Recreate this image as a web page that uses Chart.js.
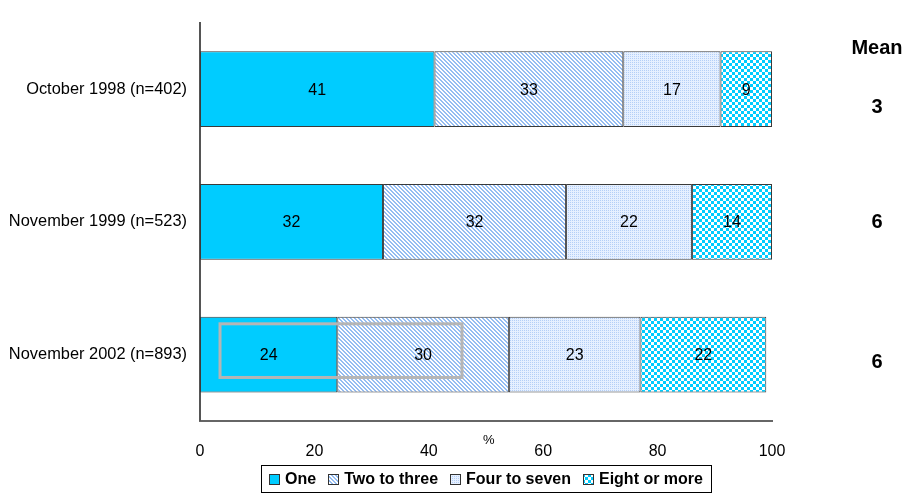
<!DOCTYPE html>
<html lang="en">
<head>
<meta charset="UTF-8">
<title>Number of times</title>
<script src="https://cdn.jsdelivr.net/npm/chart.js"></script>
<style>
    body { margin: 0; padding: 0; background: #fff; }
    #wrap { width: 913px; height: 496px; position: relative; }
</style>
</head>
<body>
<div id="wrap"><canvas id="chart" width="913" height="496"></canvas></div>
<script>
    const surveys = ['October 1998 (n=402)', 'November 1999 (n=523)', 'November 2002 (n=893)'];
    const one = [41, 32, 24];
    const twoToThree = [33, 32, 30];
    const fourToSeven = [17, 22, 23];
    const eightOrMore = [9, 14, 22];
    const means = ['3', '6', '6'];
    const seriesNames = ['One', 'Two to three', 'Four to seven', 'Eight or more'];
    const xTicks = [0, 20, 40, 60, 80, 100];

    const FONT = "'Liberation Sans', Arial, sans-serif";

    function tile(size, paint) {
        const c = document.createElement('canvas');
        c.width = size; c.height = size;
        const g = c.getContext('2d');
        for (let y = 0; y < size; y++) {
            for (let x = 0; x < size; x++) {
                g.fillStyle = paint(x, y);
                g.fillRect(x, y, 1, 1);
            }
        }
        return document.getElementById('chart').getContext('2d').createPattern(c, 'repeat');
    }

    const solid = '#00ccff';
    const stripes = tile(4, (x, y) => ((x - y + 8) % 4 < 2) ? '#95bdf2' : '#ffffff');
    const dots = tile(2, (x, y) => (x === 0 && y === 0) ? '#b4cff7' : '#e6f0ff');
    const checks = tile(6, (x, y) => ((Math.floor(x / 3) + Math.floor(y / 3)) % 2 === 0) ? '#00ccff' : '#ffffff');
    const fills = [solid, stripes, dots, checks];

    // labels, means, the % label, legend and the grey marquee box
    const extras = {
        id: 'extras',
        afterDatasetsDraw(chart) {
            const ctx = chart.ctx;
            const xs = chart.scales.x, ys = chart.scales.y;
            ctx.save();
            ctx.fillStyle = '#000';
            ctx.font = '16px ' + FONT;
            ctx.textAlign = 'center';
            ctx.textBaseline = 'middle';
            chart.data.datasets.forEach((ds, i) => {
                chart.getDatasetMeta(i).data.forEach((bar, j) => {
                    ctx.fillText(ds.data[j], (bar.x + bar.base) / 2, bar.y + 1);
                });
            });

            // grey selection box on the last row
            const last = chart.getDatasetMeta(0).data[2];
            ctx.strokeStyle = '#b5b5b5';
            ctx.lineWidth = 3;
            ctx.strokeRect(xs.getPixelForValue(3.5), last.y - last.height / 2 + 7,
                xs.getPixelForValue(45.8) - xs.getPixelForValue(3.5), last.height - 22);

            // mean column
            const meanX = 877;
            const meanShift = [18, 1, 8];
            ctx.font = 'bold 20px ' + FONT;
            ctx.fillText('Mean', meanX, 48);
            means.forEach((m, j) => ctx.fillText(m, meanX, ys.getPixelForValue(j) + meanShift[j]));

            // axis unit
            ctx.font = '13px ' + FONT;
            ctx.fillText('%', xs.getPixelForValue(50.5), 440);

            // legend
            ctx.font = 'bold 16px ' + FONT;
            const box = 11, gapBox = 5, gapItem = 12, padX = 8;
            const widths = seriesNames.map(n => ctx.measureText(n).width);
            const total = widths.reduce((a, b) => a + b, 0) + seriesNames.length * (box + gapBox) + (seriesNames.length - 1) * gapItem + 2 * padX;
            const cx = (chart.chartArea.left + chart.chartArea.right) / 2;
            let lx = cx - total / 2;
            const top = 465, h = 27, my = top + h / 2 + 1;
            ctx.strokeStyle = '#000';
            ctx.lineWidth = 1;
            ctx.strokeRect(Math.round(lx) + 0.5, top + 0.5, Math.round(total), h);
            lx += padX;
            ctx.textAlign = 'left';
            seriesNames.forEach((n, i) => {
                ctx.fillStyle = fills[i];
                ctx.fillRect(Math.round(lx), Math.round(my - box / 2), box, box);
                ctx.strokeStyle = '#333';
                ctx.strokeRect(Math.round(lx) + 0.5, Math.round(my - box / 2) + 0.5, box - 1, box - 1);
                lx += box + gapBox;
                ctx.fillStyle = '#000';
                ctx.fillText(n, lx, my);
                lx += widths[i] + gapItem;
            });
            ctx.restore();
        }
    };

    const series = [one, twoToThree, fourToSeven, eightOrMore];
    new Chart(document.getElementById('chart'), {
        type: 'bar',
        data: {
            labels: surveys,
            datasets: series.map((vals, i) => ({
                label: seriesNames[i],
                data: vals,
                backgroundColor: fills[i],
                borderColor: '#3a3a3a',
                borderWidth: 1,
                borderSkipped: false,
                categoryPercentage: 1,
                barPercentage: 0.57
            }))
        },
        options: {
            indexAxis: 'y',
            responsive: false,
            animation: false,
            layout: { padding: { top: 20, right: 141, left: 0, bottom: 0 } },
            plugins: { legend: { display: false }, tooltip: { enabled: false } },
            scales: {
                x: {
                    stacked: true,
                    min: 0, max: 100,
                    afterBuildTicks: s => { s.ticks = xTicks.map(v => ({ value: v })); },
                    grid: { display: false, drawTicks: false },
                    border: { display: true, color: '#666', width: 2 },
                    ticks: { color: '#000', font: { family: FONT, size: 16 }, padding: 21 },
                    afterFit: s => { s.height = 75; }
                },
                y: {
                    stacked: true,
                    grid: { display: false, drawTicks: false },
                    border: { display: true, color: '#555', width: 2 },
                    ticks: { color: '#000', font: { family: FONT, size: 16.4 }, padding: 13 },
                    afterFit: s => { s.width = 200; }
                }
            }
        },
        plugins: [extras]
    });
</script>
</body>
</html>
